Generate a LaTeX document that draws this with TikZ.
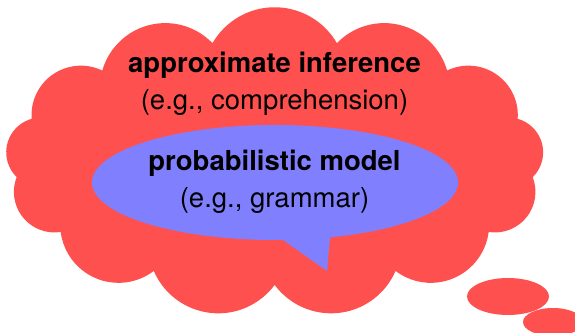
\documentclass[tikz,border=0pt]{standalone}
\usepackage{fontspec}
\setmainfont{TeX Gyre Heros}
\usetikzlibrary{calc}
\definecolor{cloudred}{RGB}{255,80,80}
\definecolor{modelblue}{RGB}{128,128,255}

\begin{document}
\begin{tikzpicture}[x=1pt, y=1pt,
    headline/.style={font=\fontsize{27.5}{33}\selectfont\bfseries, anchor=base, inner sep=0pt},
    exampleline/.style={font=\fontsize{27.5}{33}\selectfont, anchor=base, inner sep=0pt}]
    \useasboundingbox (0,0) rectangle (575,332);
    \clip (0,0) rectangle (575,332);

    % Cloud: notch points on an ellipse, puffs in between
    \foreach \k in {0,...,13}
        \coordinate (n\k) at ({274.75+260*cos(270+\k*360/13)}, {169.8+122.8*sin(270+\k*360/13)});
    \fill[cloudred] (n0)
        \foreach \k [evaluate=\k as \kk using int(\k+1)] in {0,...,12} {
            let \p1 = (n\k), \p2 = (n\kk),
                \n1 = {atan2(\y2-\y1,\x2-\x1)},
                \n2 = {veclen(\x2-\x1,\y2-\y1)/sqrt(3)}
            in arc[start angle=\n1+210, delta angle=120, radius=\n2]
        } -- cycle;

    % Trail of thought
    \fill[cloudred] (508,35.5) ellipse [x radius=41, y radius=18.5];
    \fill[cloudred] (553,10) ellipse [x radius=30, y radius=14];

    % Speech bubble of the model
    \coordinate (mc) at (275,149.5);
    \coordinate (tip) at (327,61);
    \fill[modelblue] ($(mc)+(-72.5:183 and 57.5)$)
        arc[start angle=-72.5, end angle=272.5, x radius=183, y radius=57.5]
        -- (tip) -- cycle;

    % Labels
    \node[headline] (inference) at (274.5,259) {approximate inference};
    \node[exampleline] (inferenceex) at (274.5,222) {(e.g., comprehension)};
    \node[headline] (model) at (274.5,161) {probabilistic model};
    \node[exampleline] (modelex) at (274.5,124) {(e.g., grammar)};
\end{tikzpicture}
\end{document}
